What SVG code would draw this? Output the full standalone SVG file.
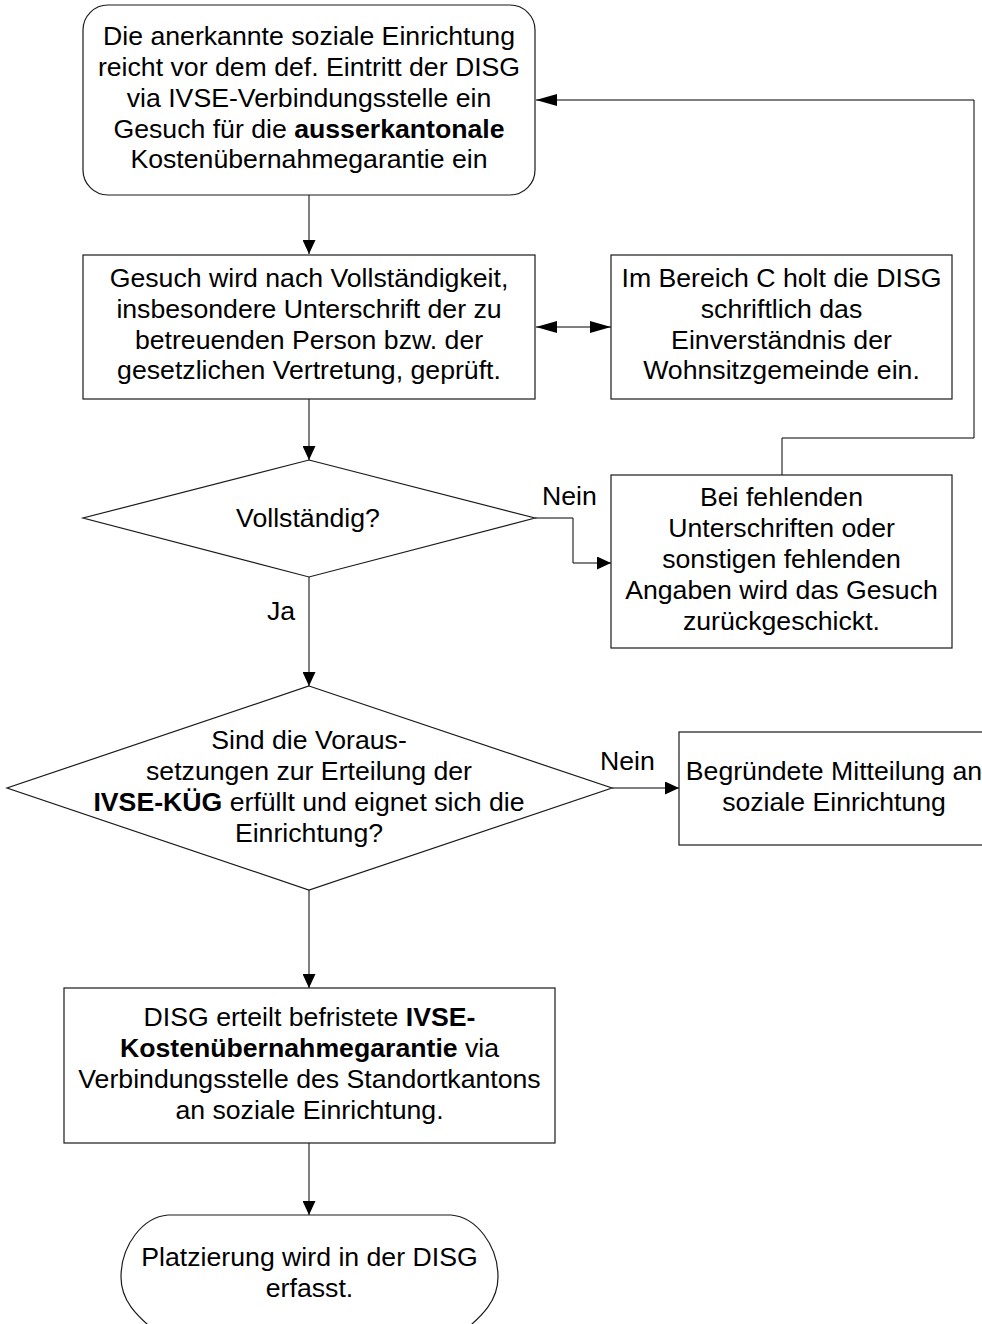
<svg xmlns="http://www.w3.org/2000/svg" width="982" height="1324" viewBox="0 0 982 1324">
<style>
  .shape { fill: #ffffff; stroke: #1a1a1a; stroke-width: 1.2; }
  .conn { fill: none; stroke: #000000; stroke-width: 1; }
  text { font-family: "Liberation Sans", Arial, sans-serif; font-size: 26.67px; fill: #000000; text-anchor: middle; }
  .b { font-weight: bold; }
  .lbl { text-anchor: start; }
</style>
<defs>
  <marker id="arr" viewBox="0 0 14 13" refX="14" refY="6.5" markerWidth="14" markerHeight="13" markerUnits="userSpaceOnUse" orient="auto-start-reverse">
    <path d="M0,0 L14,6.5 L0,13 Z" fill="#000"/>
  </marker>
  <marker id="arrL" viewBox="0 0 21 12" refX="21" refY="6" markerWidth="21" markerHeight="12" markerUnits="userSpaceOnUse" orient="auto-start-reverse">
    <path d="M0,0 L21,6 L0,12 Z" fill="#000"/>
  </marker>
</defs>
<rect width="982" height="1324" fill="#ffffff"/>

<g id="connectors">
  <path class="conn" d="M309,195 V254" marker-end="url(#arr)"/>
  <path class="conn" d="M536,327 H611" marker-start="url(#arrL)" marker-end="url(#arrL)"/>
  <path class="conn" d="M309,399 V460" marker-end="url(#arr)"/>
  <path class="conn" d="M535,518 H573 V563 H611" marker-end="url(#arr)"/>
  <path class="conn" d="M782,475 V438 H974 V100 H536" marker-end="url(#arrL)"/>
  <path class="conn" d="M309,577 V686" marker-end="url(#arr)"/>
  <path class="conn" d="M612,788 H679" marker-end="url(#arr)"/>
  <path class="conn" d="M309,890 V988" marker-end="url(#arr)"/>
  <path class="conn" d="M309,1143 V1215" marker-end="url(#arr)"/>
  <text class="lbl" x="542" y="505">Nein</text>
  <text class="lbl" x="267" y="620">Ja</text>
  <text class="lbl" x="600" y="770">Nein</text>
</g>

<g id="start">
  <rect class="shape" x="83" y="5" width="452" height="190" rx="25" ry="25"/>
  <text x="309" y="45">Die anerkannte soziale Einrichtung</text>
  <text x="309" y="76">reicht vor dem def. Eintritt der DISG</text>
  <text x="309" y="107">via IVSE-Verbindungsstelle ein</text>
  <text x="309" y="138">Gesuch für die <tspan class="b">ausserkantonale</tspan></text>
  <text x="309" y="168">Kostenübernahmegarantie ein</text>
</g>

<g id="pruefung">
  <rect class="shape" x="83" y="255" width="452" height="144"/>
  <text x="309" y="287">Gesuch wird nach Vollständigkeit,</text>
  <text x="309" y="318">insbesondere Unterschrift der zu</text>
  <text x="309" y="349">betreuenden Person bzw. der</text>
  <text x="309" y="379">gesetzlichen Vertretung, geprüft.</text>
</g>

<g id="bereich-c">
  <rect class="shape" x="611" y="255" width="341" height="144"/>
  <text x="781.5" y="287">Im Bereich C holt die DISG</text>
  <text x="781.5" y="318">schriftlich das</text>
  <text x="781.5" y="349">Einverständnis der</text>
  <text x="781.5" y="379">Wohnsitzgemeinde ein.</text>
</g>

<g id="vollstaendig">
  <polygon class="shape" points="309,460 535,518 309,577 83,518"/>
  <text x="308" y="527">Vollständig?</text>
</g>

<g id="zurueck">
  <rect class="shape" x="611" y="475" width="341" height="173"/>
  <text x="781.5" y="506">Bei fehlenden</text>
  <text x="781.5" y="537">Unterschriften oder</text>
  <text x="781.5" y="568">sonstigen fehlenden</text>
  <text x="781.5" y="599">Angaben wird das Gesuch</text>
  <text x="781.5" y="630">zurückgeschickt.</text>
</g>

<g id="voraussetzungen">
  <polygon class="shape" points="309,686 612,788 309,890 7,788"/>
  <text x="309" y="749">Sind die Voraus-</text>
  <text x="309" y="780">setzungen zur Erteilung der</text>
  <text x="309" y="811"><tspan class="b">IVSE-KÜG</tspan> erfüllt und eignet sich die</text>
  <text x="309" y="842">Einrichtung?</text>
</g>

<g id="mitteilung">
  <rect class="shape" x="679" y="732" width="310" height="113"/>
  <text x="834" y="780">Begründete Mitteilung an</text>
  <text x="834" y="811">soziale Einrichtung</text>
</g>

<g id="erteilung">
  <rect class="shape" x="64" y="988" width="491" height="155"/>
  <text x="309.5" y="1026">DISG erteilt befristete <tspan class="b">IVSE-</tspan></text>
  <text x="309.5" y="1057"><tspan class="b">Kostenübernahmegarantie</tspan> via</text>
  <text x="309.5" y="1088">Verbindungsstelle des Standortkantons</text>
  <text x="309.5" y="1119">an soziale Einrichtung.</text>
</g>

<g id="ende">
  <path class="shape" d="M168,1215 H451 C476,1217 498,1245 498,1277 C498,1300 484,1315 459,1335 L451,1341 H168 L160,1335 C135,1315 121,1300 121,1277 C121,1245 143,1217 168,1215 Z"/>
  <text x="309.5" y="1266">Platzierung wird in der DISG</text>
  <text x="309.5" y="1297">erfasst.</text>
</g>
</svg>
